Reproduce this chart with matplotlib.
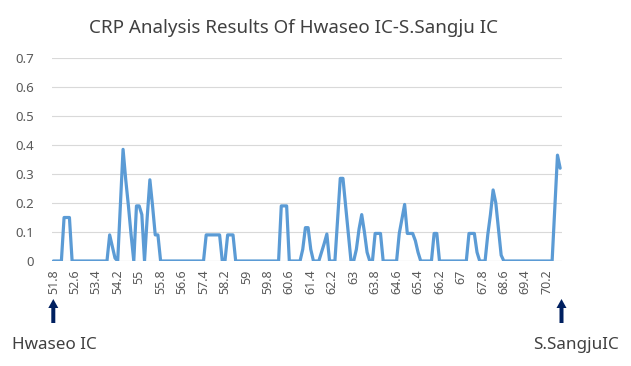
import numpy as np
import matplotlib
matplotlib.use("Agg")
import matplotlib.pyplot as plt
from matplotlib.patches import FancyArrow

# ---- data ----
start_km = 51.8
step_km = 0.1
crp = [
    0, 0, 0, 0, 0.15, 0.15, 0.15, 0, 0, 0,            # 0-9
    0, 0, 0, 0, 0, 0, 0, 0, 0, 0,                      # 10-19
    0, 0.09, 0.05, 0.01, 0, 0.19, 0.385, 0.28, 0.19, 0.09,  # 20-29
    0, 0.19, 0.19, 0.16, 0, 0.15, 0.28, 0.19, 0.09, 0.09,   # 30-39
    0, 0, 0, 0, 0, 0, 0, 0, 0, 0,                      # 40-49
    0, 0, 0, 0, 0, 0, 0, 0.09, 0.09, 0.09,             # 50-59
    0.09, 0.09, 0.09, 0, 0, 0.09, 0.09, 0.09, 0, 0,    # 60-69
    0, 0, 0, 0, 0, 0, 0, 0, 0, 0,                      # 70-79
    0, 0, 0, 0, 0, 0.19, 0.19, 0.19, 0, 0,             # 80-89
    0, 0, 0, 0.04, 0.115, 0.115, 0.04, 0, 0, 0,        # 90-99
    0.03, 0.06, 0.093, 0, 0, 0, 0.14, 0.285, 0.285, 0.19,   # 100-109
    0.095, 0, 0, 0.04, 0.11, 0.16, 0.10, 0.03, 0, 0,   # 110-119
    0.095, 0.095, 0.095, 0, 0, 0, 0, 0, 0, 0.095,      # 120-129
    0.145, 0.195, 0.095, 0.095, 0.095, 0.07, 0.03, 0, 0, 0,  # 130-139
    0, 0, 0.095, 0.095, 0, 0, 0, 0, 0, 0,              # 140-149
    0, 0, 0, 0, 0, 0.095, 0.095, 0.095, 0.03, 0,       # 150-159
    0, 0, 0.09, 0.16, 0.245, 0.2, 0.11, 0.02, 0, 0,    # 160-169
    0, 0, 0, 0, 0, 0, 0, 0, 0, 0,                      # 170-179
    0, 0, 0, 0, 0, 0, 0, 0.18, 0.365, 0.32,            # 180-189
]
km_labels = [f"{start_km + i * step_km:.1f}".rstrip("0").rstrip(".") for i in range(len(crp))]
y_ticks = [0, 0.1, 0.2, 0.3, 0.4, 0.5, 0.6, 0.7]
y_ticklabels = ["0", "0.1", "0.2", "0.3", "0.4", "0.5", "0.6", "0.7"]
title = "CRP Analysis Results Of Hwaseo IC-S.Sangju IC"
start_name = "Hwaseo IC"
end_name = "S.SangjuIC"

# ---- figure ----
W, H = 631, 366
fig = plt.figure(figsize=(W / 100, H / 100), dpi=100)
plt.rcParams['font.family'] = ['Noto Sans', 'DejaVu Sans']

left, right, bottom, top = 52, 561.5, 261, 58
ax = fig.add_axes([left / W, 1 - bottom / H, (right - left) / W, (bottom - top) / H])

x = np.arange(len(crp))
ax.plot(x, crp, color="#5B9BD5", linewidth=2.3, solid_joinstyle="round",
        solid_capstyle="round")

ax.set_xlim(-0.5, len(crp) - 0.5)
ax.set_ylim(0, 0.7)
ax.set_yticks(y_ticks)
ax.set_yticklabels(y_ticklabels)
ax.grid(axis="y", color="#D9D9D9", linewidth=0.8)
ax.set_axisbelow(True)
for s in ax.spines.values():
    s.set_visible(False)
ax.axhline(0, color="#D9D9D9", linewidth=0.8, zorder=0)

tick_idx = list(range(0, len(crp), 8))
ax.set_xticks(tick_idx)
ax.set_xticklabels([km_labels[i] for i in tick_idx], rotation=90, va="top", ha="center")
ax.tick_params(axis="x", length=0, pad=6, labelsize=9, colors="#595959")
ax.tick_params(axis="y", length=0, pad=13, labelsize=9.5, colors="#595959")

fig.text(0.465, 1 - 28 / H, title, ha="center", va="center", fontsize=13.5, color="#404040")

# arrows
for xp in (53.3, 561.5):
    arr = FancyArrow(xp / W, 1 - 323 / H, 0, 24 / H, width=4 / W, head_width=10 / W,
                     head_length=9 / H, length_includes_head=True,
                     transform=fig.transFigure, color="#002060", linewidth=0)
    fig.patches.append(arr)

fig.text(12 / W, 1 - 345 / H, start_name, ha="left", va="center", fontsize=12.3, color="#404040")
fig.text(619 / W, 1 - 345 / H, end_name, ha="right", va="center", fontsize=12.3, color="#404040")

fig.savefig("out.png", dpi=100)
